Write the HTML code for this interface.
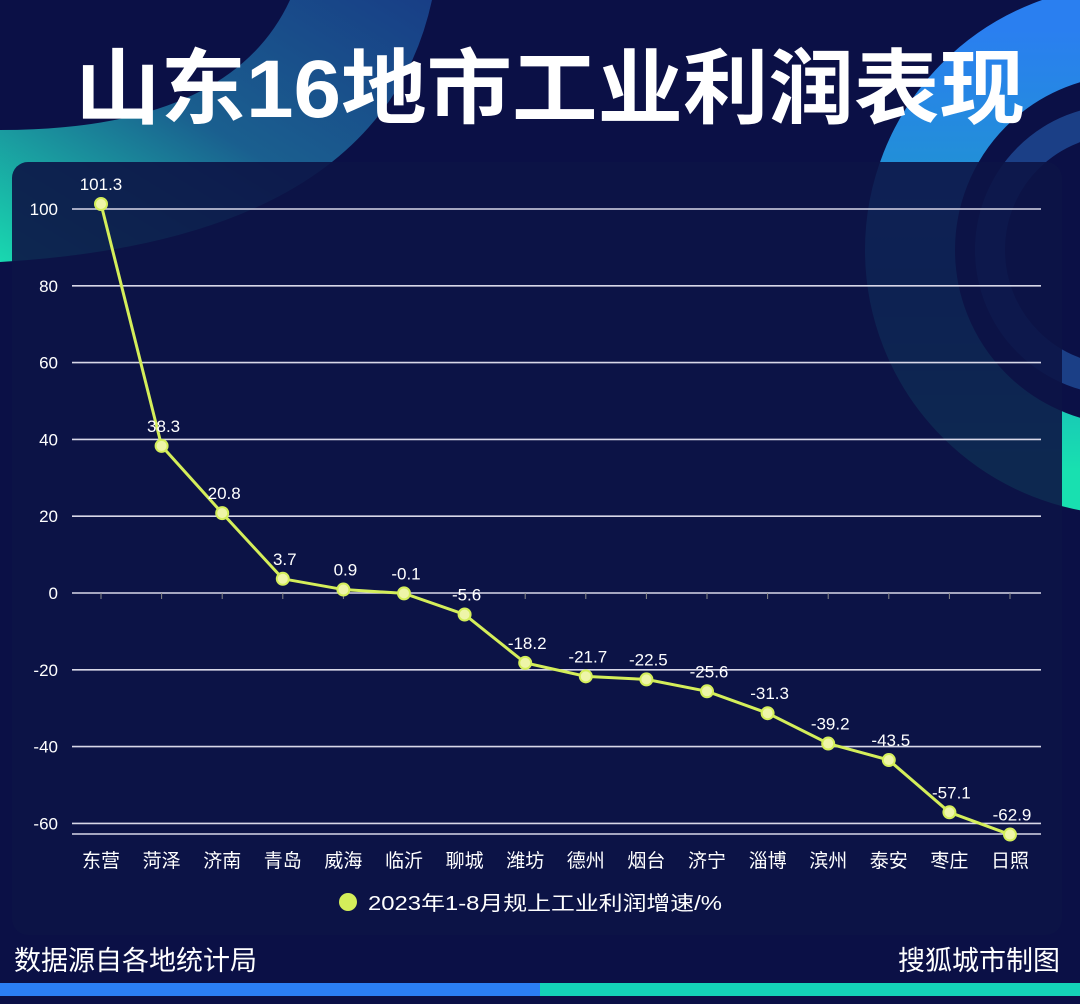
<!DOCTYPE html>
<html><head><meta charset="utf-8">
<style>
body{margin:0;background:#0b1046;}
#root{position:relative;width:1080px;height:1004px;overflow:hidden;background:#0b1046;font-family:"Liberation Sans","Noto Sans CJK SC",sans-serif;}
svg{position:absolute;left:0;top:0;}
</style></head><body>
<div id="root">
<svg width="1080" height="1004">
<defs>
<linearGradient id="gl" x1="0" y1="1" x2="1" y2="0"><stop offset="0" stop-color="#19d8b0"/><stop offset="0.5" stop-color="#1a5f8f"/><stop offset="1" stop-color="#183e86"/></linearGradient>
<linearGradient id="gr" x1="0" y1="0" x2="0" y2="1"><stop offset="0" stop-color="#2a7ff0"/><stop offset="0.6" stop-color="#1a9fc0"/><stop offset="1" stop-color="#18e0b0"/></linearGradient>
</defs>
<path d="M290,0 Q230,130 0,130 L0,262 Q380,240 432,0 Z" fill="url(#gl)"/>
<circle cx="1130" cy="250" r="220" fill="none" stroke="url(#gr)" stroke-width="90"/>
<circle cx="1120" cy="250" r="130" fill="none" stroke="#1b3f86" stroke-width="30"/>
<rect x="12" y="162" width="1050" height="773" rx="16" fill="#0c1446" fill-opacity="0.9"/>
<text x="550" y="117" text-anchor="middle" font-size="82" font-weight="bold" fill="#fff" textLength="950" lengthAdjust="spacingAndGlyphs">山东16地市工业利润表现</text>
<g id="grid"></g><g id="plot"></g>
<circle cx="348" cy="902" r="9" fill="#d4ee5a"/>
<text x="368" y="910" font-size="20" fill="#fff" textLength="354" lengthAdjust="spacingAndGlyphs">2023年1-8月规上工业利润增速/%</text>
<text x="14" y="970" font-size="27" fill="#fff">数据源自各地统计局</text>
<text x="1060" y="970" text-anchor="end" font-size="27" fill="#fff">搜狐城市制图</text>
<rect x="0" y="983" width="540" height="13" fill="#2b7ff5"/>
<rect x="540" y="983" width="540" height="13" fill="#14d3b8"/>
</svg>
</div>
<script>
const categories=["东营","菏泽","济南","青岛","威海","临沂","聊城","潍坊","德州","烟台","济宁","淄博","滨州","泰安","枣庄","日照"];
const values=[101.3,38.3,20.8,3.7,0.9,-0.1,-5.6,-18.2,-21.7,-22.5,-25.6,-31.3,-39.2,-43.5,-57.1,-62.9];
const yTicks=[100,80,60,40,20,0,-20,-40,-60];
const NS="http://www.w3.org/2000/svg";
const y=v=>593-v*3.84;
const x=i=>101+i*60.6;
function mk(t,a,p){const e=document.createElementNS(NS,t);for(const k in a)e.setAttribute(k,a[k]);p.appendChild(e);return e;}
const grid=document.getElementById('grid'),plot=document.getElementById('plot');
yTicks.forEach(t=>{
 const l=mk('line',{x1:72,x2:1041,y1:y(t),y2:y(t),stroke:'#d8d8e8','stroke-width':1.6},grid);
 
 
 const tx=mk('text',{x:58,y:y(t)+6,'text-anchor':'end','font-size':17,fill:'#fff'},grid);
 tx.textContent=t;
 
 
});
const base=mk('line',{x1:72,x2:1041,y1:834,y2:834,stroke:'#d8d8e8','stroke-width':1.6},grid);


categories.forEach((c,i)=>{
 const tx=mk('text',{x:x(i),y:867,'text-anchor':'middle','font-size':19,fill:'#fff'},grid);
 tx.textContent=c;
 
 
 const tk=mk('line',{x1:x(i),x2:x(i),y1:593,y2:599,stroke:'#888','stroke-width':1},grid);
 
 
});
const line=mk('polyline',{points:values.map((v,i)=>x(i)+','+y(v)).join(' '),fill:'none',stroke:'#d4ee5a','stroke-width':3},plot);


values.forEach((v,i)=>{
 const c=mk('circle',{cx:x(i),cy:y(v),r:6,fill:'#eef5a8',stroke:'#d4ee5a','stroke-width':2},plot);
 
 
 const t=mk('text',{x:x(i)+(i==0?0:2),y:y(v)-14,'text-anchor':'middle','font-size':17,fill:'#fff'},plot);
 t.textContent=v;
 
 
});
</script>
</body></html>
